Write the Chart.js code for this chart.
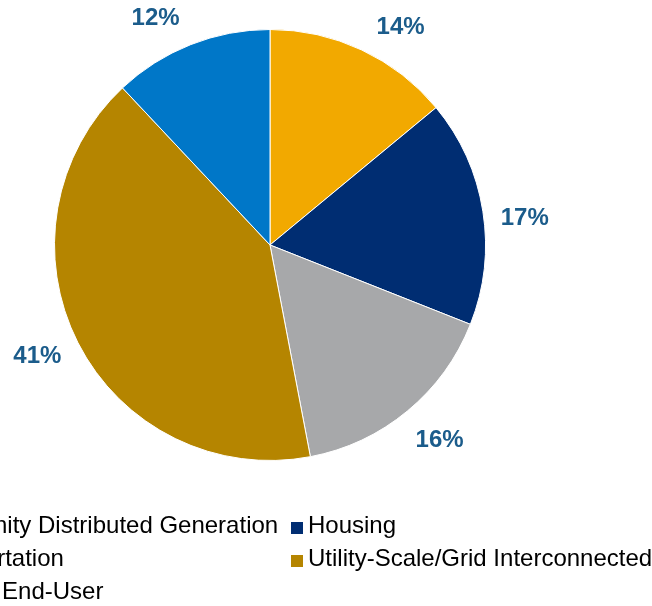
<!DOCTYPE html>
<html lang="en">

<head>
    <meta charset="UTF-8">
    <title>Pie</title>
    <script src="https://cdn.jsdelivr.net/npm/chart.js@4.4.0/dist/chart.umd.min.js"></script>
    <style>
        html, body { margin: 0; padding: 0; background: #fff; overflow: hidden; }
        #wrap { position: relative; width: 652px; height: 606px; overflow: hidden; }
        #chart_div { position: absolute; left: -120px; top: 0; width: 780px; height: 606px; }
        #legend {
            position: absolute; left: -107px; top: 508px;
            display: grid; grid-template-columns: 398px auto;
            font: 24px "Liberation Sans", Arial, sans-serif; line-height: 33px; color: #000;
            white-space: nowrap;
        }
        #legend .box { display: inline-block; width: 12px; height: 12px; margin-right: 5px; vertical-align: -1px; }
    </style>
</head>

<body>
    <div id="wrap">
        <div id="chart_div"><canvas id="myChart"></canvas></div>
        <div id="legend"></div>
    </div>
    <script>
        const labels = ['Community Distributed Generation', 'Housing', 'Transportation',
            'Utility-Scale/Grid Interconnected', 'Building End-User'];
        const values = [14, 17, 16, 41, 12];
        const colors = ['#F2A900', '#002D72', '#A7A8AA', '#B58500', '#0077C8'];

        // Excel "best fit" labels sit a bit off the middle angle, nudge in degrees
        const labelShift = [5.4, 2.3, -1.8, 2.1, -4.9];

        const pctLabels = {
            id: 'pctLabels',
            afterDatasetsDraw(chart) {
                const ctx = chart.ctx;
                const meta = chart.getDatasetMeta(0);
                ctx.save();
                ctx.font = 'bold 24px "Liberation Sans", Arial, sans-serif';
                ctx.fillStyle = '#1B5C8B';
                ctx.textAlign = 'center';
                ctx.textBaseline = 'middle';
                meta.data.forEach(function (arc, i) {
                    const p = arc.getProps(['x', 'y', 'startAngle', 'endAngle', 'outerRadius'], true);
                    const mid = (p.startAngle + p.endAngle) / 2 + labelShift[i] * Math.PI / 180;
                    const r = p.outerRadius + 41;
                    ctx.fillText(values[i] + '%', p.x + Math.cos(mid) * r, p.y + Math.sin(mid) * r + 3);
                });
                ctx.restore();
            }
        };

        new Chart(document.getElementById('myChart'), {
            type: 'pie',
            data: {
                labels: labels,
                datasets: [{
                    data: values,
                    backgroundColor: colors,
                    borderColor: '#fff',
                    borderWidth: 1
                }]
            },
            options: {
                responsive: true,
                maintainAspectRatio: false,
                animation: false,
                layout: { padding: { top: 29, bottom: 145 } },
                plugins: {
                    legend: { display: false },
                    tooltip: { enabled: false }
                }
            },
            plugins: [pctLabels]
        });

        const legend = document.getElementById('legend');
        labels.forEach(function (name, i) {
            const item = document.createElement('div');
            item.innerHTML = '<span class="box" style="background:' + colors[i] + '"></span>' + name;
            legend.appendChild(item);
        });
    </script>
</body>

</html>
